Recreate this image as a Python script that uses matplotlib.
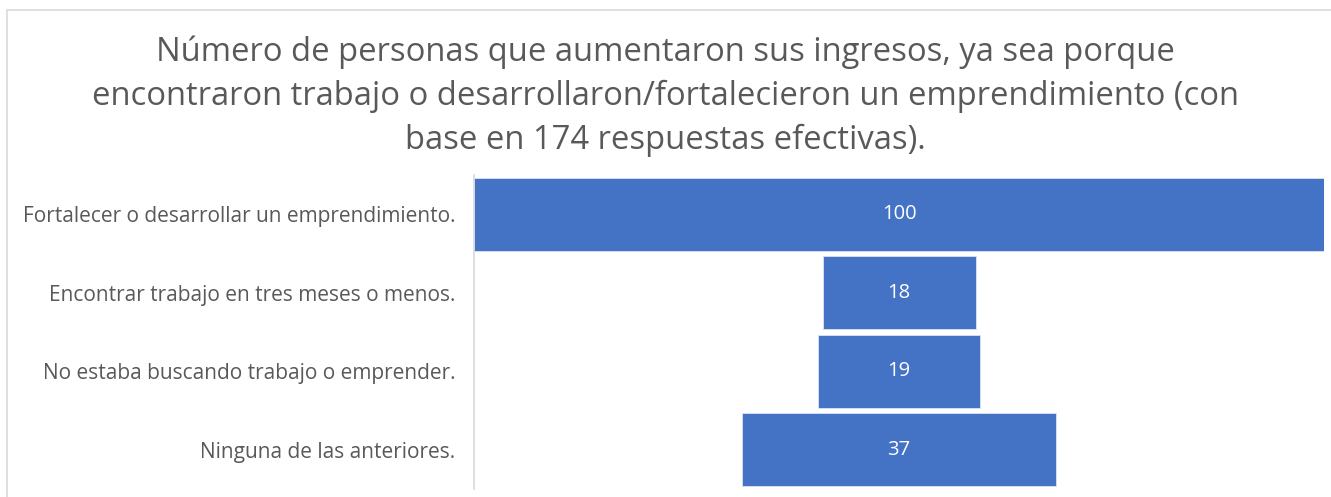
import matplotlib
matplotlib.use("Agg")
import matplotlib.pyplot as plt
from matplotlib.patches import Rectangle

categories = [
    "Fortalecer o desarrollar un emprendimiento.",
    "Encontrar trabajo en tres meses o menos.",
    "No estaba buscando trabajo o emprender.",
    "Ninguna de las anteriores.",
]
values = [100, 18, 19, 37]
title = ("Número de personas que aumentaron sus ingresos, ya sea porque\n"
         "encontraron trabajo o desarrollaron/fortalecieron un emprendimiento (con\n"
         "base en 174 respuestas efectivas).")

plt.rcParams['font.family'] = ['Open Sans', 'DejaVu Sans']
TXT = '#595959'
BAR = '#4472C4'

fig = plt.figure(figsize=(13.31, 4.97), dpi=100)
# light border of the chart area
fig.patches.append(Rectangle((7/1331, -0.1), 1.2, 1 - 10/497 + 0.1,
                             transform=fig.transFigure, fill=False,
                             edgecolor='#D9D9D9', linewidth=1.2))

ax = fig.add_axes([474/1331, 1 - 489/497, 850/1331, 314/497])
maxv = max(values)
ys = list(range(len(values)))
lefts = [maxv/2 - v/2 for v in values]
ax.barh(ys, values, left=lefts, height=0.93, color=BAR,
        edgecolor='#DCE4F2', linewidth=0.6)
for y, v in zip(ys, values):
    ax.text(maxv/2, y, str(v), ha='center', va='center',
            color='white', fontsize=14.5)
ax.set_xlim(0, maxv)
ax.set_ylim(len(values) - 0.5, -0.5)
ax.set_yticks(ys)
ax.set_yticklabels(categories, fontsize=15, color=TXT)
ax.tick_params(axis='y', length=0, pad=13.5)
ax.set_xticks([])
for s in ['top', 'right', 'bottom']:
    ax.spines[s].set_visible(False)
ax.spines['left'].set_color('#D9D9D9')
ax.spines['left'].set_linewidth(1.2)

fig.text(0.5, 1 - 96/497, title, ha='center', va='center',
         fontsize=23.6, color=TXT, linespacing=1.42)

fig.savefig('out.png', dpi=100, facecolor='white')
